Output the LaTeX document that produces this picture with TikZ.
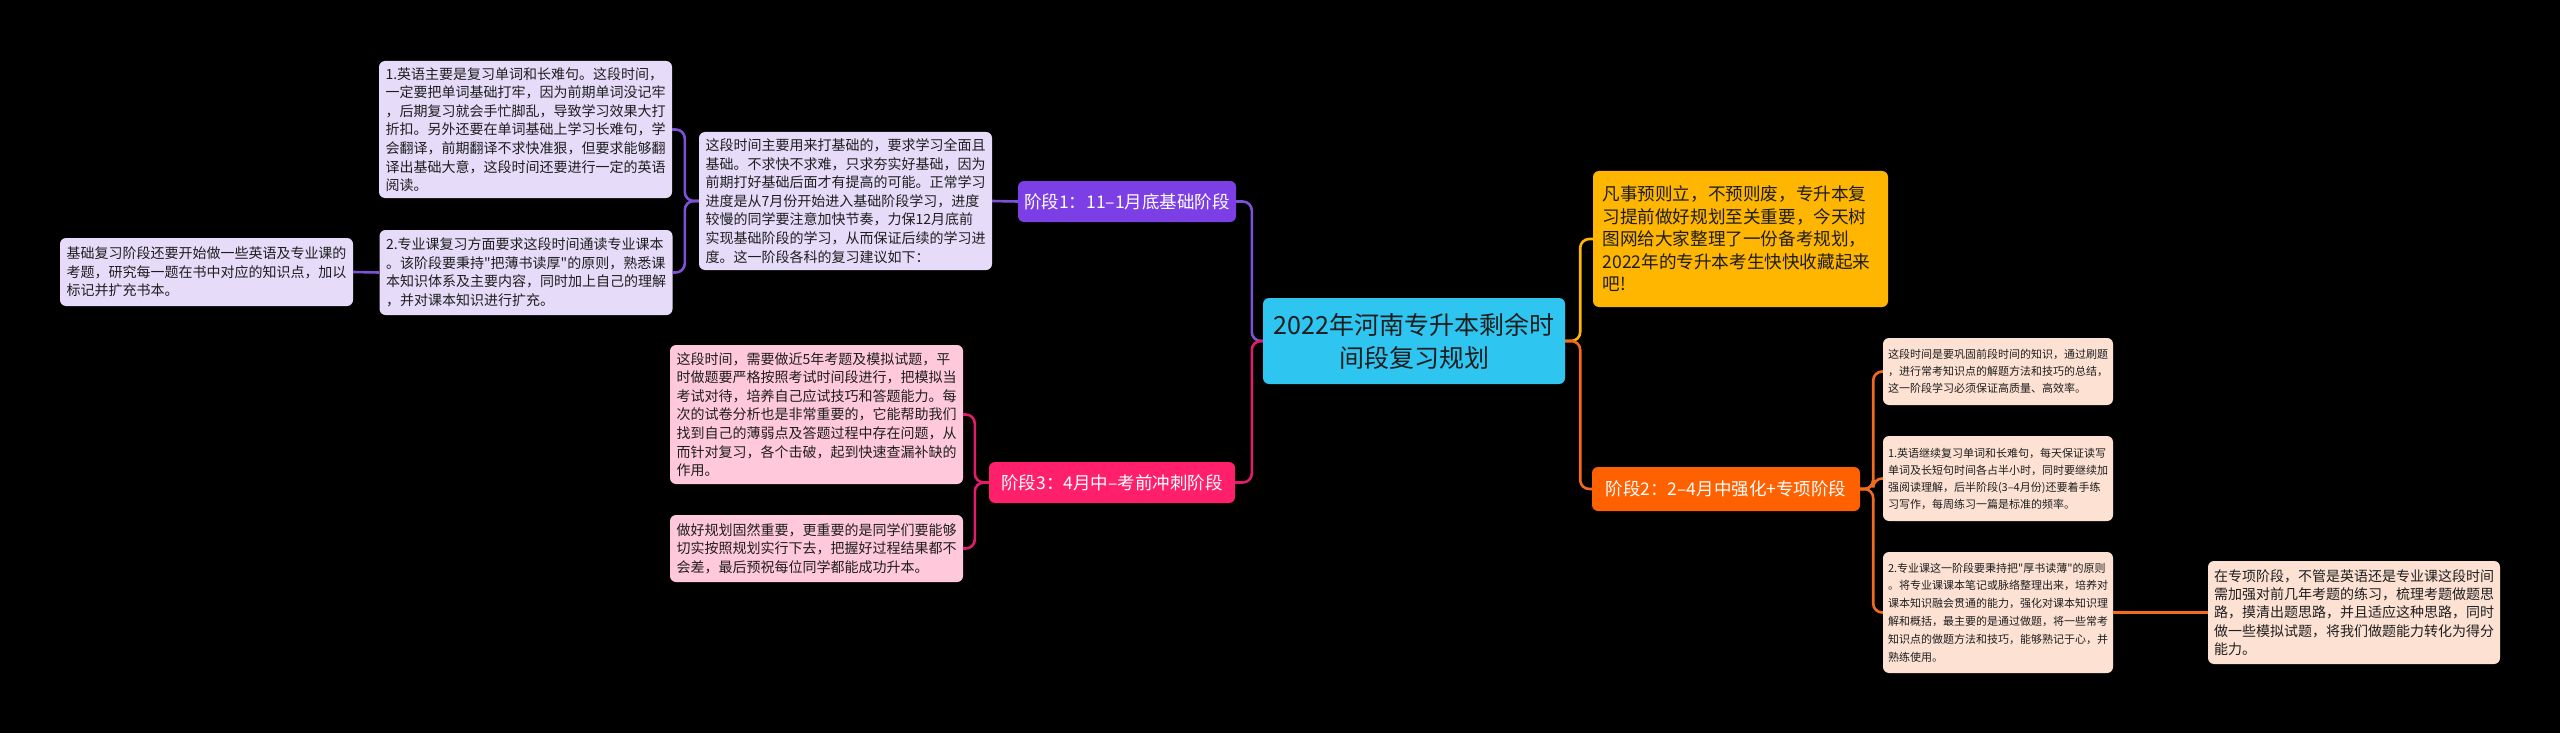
\documentclass[tikz,border=0pt]{standalone}
\usepackage{fontspec}
\setmainfont{Noto Sans CJK SC}[Ligatures=TeXOff]
\usetikzlibrary{calc}
\definecolor{cCentral}{HTML}{2EC5F0}
\definecolor{cYellow}{HTML}{FFB600}
\definecolor{cPurple}{HTML}{7C3FE6}
\definecolor{cPurpleLine}{HTML}{7E52D8}
\definecolor{cLav}{HTML}{E6DCFA}
\definecolor{cPink}{HTML}{FF1F6B}
\definecolor{cPinkLine}{HTML}{E31B6B}
\definecolor{cPinkLight}{HTML}{FFC8DB}
\definecolor{cOrange}{HTML}{FF6000}
\definecolor{cOrangeLine}{HTML}{F26B1D}
\definecolor{cPeach}{HTML}{FDE2D4}
\definecolor{cText}{HTML}{1E1E1E}
\tikzset{
  basebox/.style={rounded corners=6pt, inner ysep=0pt, anchor=center},
  detailbig/.style={basebox, align=left, text=cText, inner xsep=6.5pt, text width=280pt,
     font=\fontsize{14}{18.6}\selectfont},
  detailsmall/.style={basebox, align=left, text=cText, inner xsep=5pt, text width=220pt,
     font=\fontsize{11}{17}\selectfont},
  stagebox/.style={basebox, align=center, text=white, inner xsep=0pt,
     font=\fontsize{17.5}{20}\selectfont},
  conn/.style={line width=2.6pt, rounded corners=9pt},
}
\begin{document}
\begin{tikzpicture}[x=1pt,y=-1pt]
\fill[black] (0,0) rectangle (2560,733);
\useasboundingbox (0,0) rectangle (2560,733);

% ---------- nodes ----------
\node[basebox, fill=cCentral, text=cText, align=center, minimum width=302pt, minimum height=86pt,
  font=\fontsize{25}{33}\selectfont] (central) at (1414,341)
  {2022年河南专升本剩余时\\间段复习规划};

\node[basebox, fill=cYellow, text=cText, align=left, inner xsep=9.5pt, text width=276pt,
  minimum height=136pt, font=\fontsize{17.6}{22.5}\selectfont] (intro) at (1740.5,239)
  {凡事预则立，不预则废，专升本复\\习提前做好规划至关重要，今天树\\图网给大家整理了一份备考规划，\\2022年的专升本考生快快收藏起来\\吧!};

% stage 1
\node[stagebox, fill=cPurple, minimum width=218pt, minimum height=41pt] (s1) at (1127,201.5)
  {阶段1：11–1月底基础阶段};
\node[detailbig, fill=cLav, minimum height=138pt] (s1d) at (845.5,201)
  {这段时间主要用来打基础的，要求学习全面且\\基础。不求快不求难，只求夯实好基础，因为\\前期打好基础后面才有提高的可能。正常学习\\进度是从7月份开始进入基础阶段学习，进度\\较慢的同学要注意加快节奏，力保12月底前\\实现基础阶段的学习，从而保证后续的学习进\\度。这一阶段各科的复习建议如下：};
\node[detailbig, fill=cLav, minimum height=137pt] (s1a) at (525.5,129.5)
  {1.英语主要是复习单词和长难句。这段时间，\\一定要把单词基础打牢，因为前期单词没记牢\\，后期复习就会手忙脚乱，导致学习效果大打\\折扣。另外还要在单词基础上学习长难句，学\\会翻译，前期翻译不求快准狠，但要求能够翻\\译出基础大意，这段时间还要进行一定的英语\\阅读。};
\node[detailbig, fill=cLav, minimum height=85pt] (s1b) at (526,272.5)
  {2.专业课复习方面要求这段时间通读专业课本\\。该阶段要秉持"把薄书读厚"的原则，熟悉课\\本知识体系及主要内容，同时加上自己的理解\\，并对课本知识进行扩充。};
\node[detailbig, fill=cLav, minimum height=68pt] (s1c) at (206.5,272)
  {基础复习阶段还要开始做一些英语及专业课的\\考题，研究每一题在书中对应的知识点，加以\\标记并扩充书本。};

% stage 3
\node[stagebox, fill=cPink, minimum width=246pt, minimum height=41pt] (s3) at (1112,482.5)
  {阶段3：4月中–考前冲刺阶段};
\node[detailbig, fill=cPinkLight, minimum height=139pt] (s3a) at (816.5,414.5)
  {这段时间，需要做近5年考题及模拟试题，平\\时做题要严格按照考试时间段进行，把模拟当\\考试对待，培养自己应试技巧和答题能力。每\\次的试卷分析也是非常重要的，它能帮助我们\\找到自己的薄弱点及答题过程中存在问题，从\\而针对复习，各个击破，起到快速查漏补缺的\\作用。};
\node[detailbig, fill=cPinkLight, minimum height=67pt] (s3b) at (816.5,548.5)
  {做好规划固然重要，更重要的是同学们要能够\\切实按照规划实行下去，把握好过程结果都不\\会差，最后预祝每位同学都能成功升本。};

% stage 2
\node[stagebox, fill=cOrange, minimum width=268pt, minimum height=44pt] (s2) at (1726,489)
  {阶段2：2–4月中强化+专项阶段};
\node[detailsmall, fill=cPeach, minimum height=67pt] (s2a) at (1998,371.5)
  {这段时间是要巩固前段时间的知识，通过刷题\\，进行常考知识点的解题方法和技巧的总结，\\这一阶段学习必须保证高质量、高效率。};
\node[detailsmall, fill=cPeach, minimum height=85pt] (s2b) at (1998,478.5)
  {1.英语继续复习单词和长难句，每天保证读写\\单词及长短句时间各占半小时，同时要继续加\\强阅读理解，后半阶段(3–4月份)还要着手练\\习写作，每周练习一篇是标准的频率。};
\node[detailsmall, fill=cPeach, minimum height=121pt,
  font=\fontsize{11}{17.8}\selectfont] (s2c) at (1998,612.5)
  {2.专业课这一阶段要秉持把"厚书读薄"的原则\\。将专业课课本笔记或脉络整理出来，培养对\\课本知识融会贯通的能力，强化对课本知识理\\解和概括，最主要的是通过做题，将一些常考\\知识点的做题方法和技巧，能够熟记于心，并\\熟练使用。};
\node[detailbig, fill=cPeach, inner xsep=6pt, minimum height=103pt,
  font=\fontsize{14}{18.3}\selectfont] (s2d) at (2354,612.5)
  {在专项阶段，不管是英语还是专业课这段时间\\需加强对前几年考题的练习，梳理考题做题思\\路，摸清出题思路，并且适应这种思路，同时\\做一些模拟试题，将我们做题能力转化为得分\\能力。};

% ---------- connectors ----------
\draw[conn, cPurpleLine] (central.west) -- ++(-11,0) |- (s1.east);
\draw[conn, cPinkLine] (central.west) -- ++(-11,0) |- (s3.east);
\draw[conn, cYellow] (central.east) -- ++(15,0) |- (intro.west);
\draw[conn, cOrangeLine] (central.east) -- ++(15,0) |- (s2.west);

\draw[conn, cPurpleLine] (s1.west) -- (s1d.east);
\draw[conn, cPurpleLine] (s1d.west) -- ++(-14,0) |- (s1a.east);
\draw[conn, cPurpleLine] (s1d.west) -- ++(-14,0) |- (s1b.east);
\draw[conn, cPurpleLine] (s1b.west) -- (s1c.east);

\draw[conn, cPinkLine] (s3.west) -- ++(-14,0) |- (s3a.east);
\draw[conn, cPinkLine] (s3.west) -- ++(-14,0) |- (s3b.east);

\draw[conn, cOrangeLine] (s2.east) -- ++(13,0) |- (s2a.west);
\draw[conn, cOrangeLine] (s2.east) -- ++(13,0) |- (s2b.west);
\draw[conn, cOrangeLine] (s2.east) -- ++(13,0) |- (s2c.west);
\draw[conn, cOrangeLine] (s2c.east) -- (s2d.west);
\end{tikzpicture}
\end{document}
